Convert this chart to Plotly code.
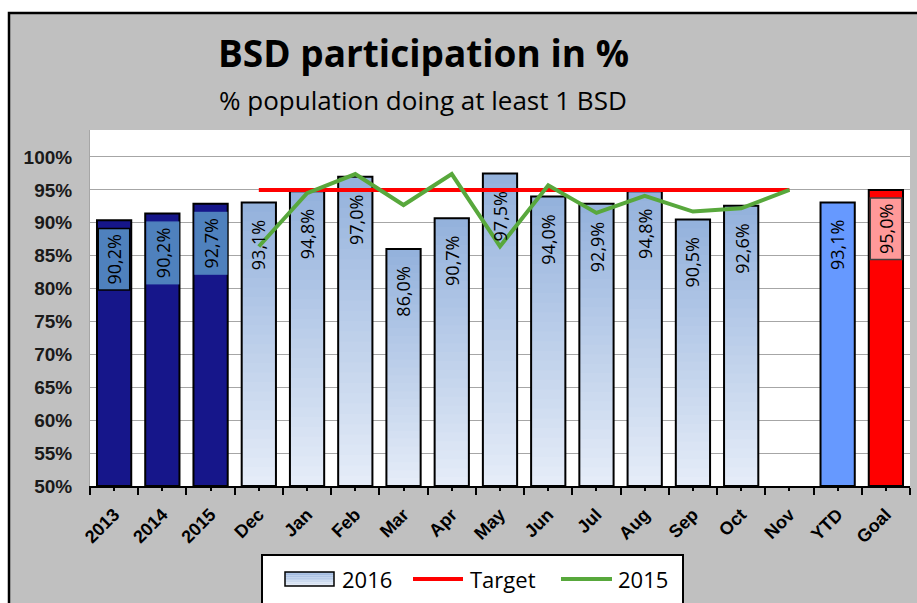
import plotly.graph_objects as go

# ---------------- data ----------------
categories = ["2013", "2014", "2015", "Dec", "Jan", "Feb", "Mar", "Apr", "May",
              "Jun", "Jul", "Aug", "Sep", "Oct", "Nov", "YTD", "Goal"]

years = ["2013", "2014", "2015"]
year_values = [90.4, 91.4, 92.9]
year_labels = ["90,2%", "90,2%", "92,7%"]

months = ["Dec", "Jan", "Feb", "Mar", "Apr", "May", "Jun", "Jul", "Aug", "Sep", "Oct", "Nov"]
values_2016 = [93.1, 94.8, 97.0, 86.0, 90.7, 97.5, 94.0, 92.9, 94.8, 90.5, 92.6, None]
target = [95, 95, 95, 95, 95, 95, 95, 95, 95, 95, 95, 95]
values_2015 = [86.4, 94.5, 97.4, 92.7, 97.4, 86.4, 95.7, 91.5, 94.1, 91.7, 92.2, 95.0]

ytd_cat = ["YTD"]
ytd_value = [93.1]
goal_cat = ["Goal"]
goal_value = [95.0]
goal_labels = ["95,0%"]

y_ticks = [50, 55, 60, 65, 70, 75, 80, 85, 90, 95, 100]
y_tick_labels = ["50%", "55%", "60%", "65%", "70%", "75%", "80%", "85%", "90%", "95%", "100%"]

# ---------------- geometry helpers (pixel -> paper) ----------------
W, H = 917, 603
L, R, T, B = 90, 7, 130, 117
PW, PH = W - L - R, H - T - B


def px(x):
    return (x - L) / PW


def py(y):
    return (H - B - y) / PH


BASE = 50
YMAX = 104.1
BAR_W = 0.71
TOP_C = (0x93, 0xB1, 0xDC)
BOT_C = (0xE6, 0xED, 0xF8)
N_LEVELS = 30


def mix(t):
    c = [round(BOT_C[i] + (TOP_C[i] - BOT_C[i]) * t) for i in range(3)]
    return "rgb(%d,%d,%d)" % tuple(c)


def fmt(v):
    return ("%.1f%%" % v).replace(".", ",")


def idx(c):
    return categories.index(c)


fig = go.Figure()

# dark year bars
fig.add_trace(go.Bar(
    x=years, y=[v - BASE for v in year_values], base=BASE, width=BAR_W,
    marker=dict(color="#16168A", line=dict(color="black", width=2)),
    showlegend=False, hoverinfo="skip"))

# 2016 month bars with vertical gradient (nested overlays)
month_x = [m for m, v in zip(months, values_2016) if v is not None]
month_v = [v for v in values_2016 if v is not None]
for k in range(N_LEVELS, 0, -1):
    frac = k / N_LEVELS
    fig.add_trace(go.Bar(
        x=month_x, y=[(v - BASE) * frac for v in month_v], base=BASE, width=BAR_W,
        marker=dict(color=mix((k - 0.5) / N_LEVELS), line=dict(width=0)),
        showlegend=False, hoverinfo="skip"))
fig.add_trace(go.Bar(
    x=month_x, y=[v - BASE for v in month_v], base=BASE, width=BAR_W,
    marker=dict(color="rgba(0,0,0,0)", line=dict(color="black", width=2)),
    name="2016", showlegend=False, hoverinfo="skip"))

# YTD and Goal
fig.add_trace(go.Bar(
    x=ytd_cat, y=[v - BASE for v in ytd_value], base=BASE, width=BAR_W,
    marker=dict(color="#6699FF", line=dict(color="black", width=2)),
    showlegend=False, hoverinfo="skip"))
fig.add_trace(go.Bar(
    x=goal_cat, y=[v - BASE for v in goal_value], base=BASE, width=BAR_W,
    marker=dict(color="#FF0000", line=dict(color="black", width=2)),
    showlegend=False, hoverinfo="skip"))

# lines
fig.add_trace(go.Scatter(
    x=months, y=target, mode="lines", line=dict(color="#FF0000", width=4),
    name="Target", showlegend=False, hoverinfo="skip"))
fig.add_trace(go.Scatter(
    x=months, y=values_2015, mode="lines", line=dict(color="#58A83C", width=4),
    name="2015", showlegend=False, hoverinfo="skip"))

# dummy trace for the minor tick axis
fig.add_trace(go.Scatter(x=[0], y=[None], xaxis="x2", yaxis="y",
                         showlegend=False, hoverinfo="skip"))

annotations = []
LABEL_FONT = dict(family="Open Sans, sans-serif", size=18, color="black")

# boxed labels for year bars
for i, (c, v, lab) in enumerate(zip(years, year_values, year_labels)):
    annotations.append(dict(
        x=idx(c), y=v, xref="x", yref="y", text=lab, showarrow=False, textangle=-90,
        yanchor="top", xanchor="center", yshift=-8, font=LABEL_FONT,
        bgcolor="#4F81BD", bordercolor="black" if i == 0 else "#4F81BD",
        borderwidth=1.5, borderpad=0, width=60, height=30))

# month labels
for c, v in zip(month_x, month_v):
    annotations.append(dict(
        x=idx(c), y=v, xref="x", yref="y", text=fmt(v), showarrow=False, textangle=-90,
        yanchor="top", xanchor="center", yshift=-16, font=LABEL_FONT))
for c, v in zip(ytd_cat, ytd_value):
    annotations.append(dict(
        x=idx(c), y=v, xref="x", yref="y", text=fmt(v), showarrow=False, textangle=-90,
        yanchor="top", xanchor="center", yshift=-16, font=LABEL_FONT))
for c, v, lab in zip(goal_cat, goal_value, goal_labels):
    annotations.append(dict(
        x=idx(c), y=v, xref="x", yref="y", text=lab, showarrow=False, textangle=-90,
        yanchor="top", xanchor="center", yshift=-7, font=LABEL_FONT,
        bgcolor="#FF9999", bordercolor="#404040", borderwidth=1.5, borderpad=0,
        width=60, height=30))

# titles
annotations.append(dict(
    x=px(423), y=py(52), xref="paper", yref="paper", text="<b>BSD participation in %</b>",
    showarrow=False, xanchor="center", yanchor="middle",
    font=dict(family="Open Sans, sans-serif", size=37, color="black")))
annotations.append(dict(
    x=px(423), y=py(100), xref="paper", yref="paper", text="% population doing at least 1 BSD",
    showarrow=False, xanchor="center", yanchor="middle",
    font=dict(family="Open Sans, sans-serif", size=26, color="black")))

# legend texts
LEG_FONT = dict(family="Open Sans, sans-serif", size=22, color="black")
for txt, x0 in [("2016", 340), ("Target", 468), ("2015", 616)]:
    annotations.append(dict(
        x=px(x0), y=py(579), xref="paper", yref="paper", text=txt, showarrow=False,
        xanchor="left", yanchor="middle", font=LEG_FONT))

shapes = []
# white strips outside the outer frame
shapes.append(dict(type="rect", xref="paper", yref="paper",
                   x0=px(-20), x1=px(W + 20), y0=py(12), y1=py(-20),
                   fillcolor="white", line=dict(width=0), layer="below"))
shapes.append(dict(type="rect", xref="paper", yref="paper",
                   x0=px(-20), x1=px(8), y0=py(H + 20), y1=py(-20),
                   fillcolor="white", line=dict(width=0), layer="below"))
# outer frame
shapes.append(dict(type="rect", xref="paper", yref="paper",
                   x0=px(9), x1=px(W + 20), y0=py(H + 20), y1=py(13),
                   fillcolor="rgba(0,0,0,0)", line=dict(color="black", width=2.5)))
# legend box
shapes.append(dict(type="rect", xref="paper", yref="paper",
                   x0=px(262), x1=px(683), y0=py(H + 20), y1=py(555),
                   fillcolor="white", line=dict(color="black", width=2)))
# legend swatch gradient
n_sw = 8
sy0, sy1 = 572, 586
for i in range(n_sw):
    ya = sy0 + (sy1 - sy0) * i / n_sw
    yb = sy0 + (sy1 - sy0) * (i + 1) / n_sw
    shapes.append(dict(type="rect", xref="paper", yref="paper",
                       x0=px(285), x1=px(334), y0=py(yb), y1=py(ya),
                       fillcolor=mix(1 - (i + 0.5) / n_sw), line=dict(width=0)))
shapes.append(dict(type="rect", xref="paper", yref="paper",
                   x0=px(285), x1=px(334), y0=py(sy1), y1=py(sy0),
                   fillcolor="rgba(0,0,0,0)", line=dict(color="black", width=1.5)))
shapes.append(dict(type="line", xref="paper", yref="paper",
                   x0=px(413), x1=px(463), y0=py(579), y1=py(579),
                   line=dict(color="#FF0000", width=4)))
shapes.append(dict(type="line", xref="paper", yref="paper",
                   x0=px(561), x1=px(612), y0=py(579), y1=py(579),
                   line=dict(color="#58A83C", width=4)))

fig.update_layout(
    width=W, height=H,
    margin=dict(l=L, r=R, t=T, b=B, pad=0, autoexpand=False),
    paper_bgcolor="#C0C0C0",
    plot_bgcolor="white",
    barmode="overlay",
    showlegend=False,
    annotations=annotations,
    shapes=shapes,
    xaxis=dict(
        type="category", categoryorder="array", categoryarray=categories,
        range=[-0.5, len(categories) - 0.5],
        showline=True, linecolor="black", linewidth=2,
        ticks="outside", tickson="boundaries", ticklen=7, tickwidth=2, tickcolor="black",
        tickangle=-45, showgrid=False, automargin=False, ticklabelstandoff=9,
        tickfont=dict(family="Liberation Sans, Arial, sans-serif", size=18,
                      color="black", weight="bold"),
    ),
    xaxis2=dict(
        overlaying="x", anchor="y", range=[-0.5, len(categories) - 0.5],
        tickvals=list(range(len(categories))), ticks="outside", ticklen=4, tickwidth=2,
        tickcolor="black", showticklabels=False, showgrid=False, showline=False,
        zeroline=False, side="bottom",
    ),
    yaxis=dict(
        range=[BASE, YMAX], tickmode="array", tickvals=y_ticks, ticktext=y_tick_labels,
        showgrid=True, gridcolor="#A6A6A6", gridwidth=1,
        showline=True, linecolor="#A6A6A6", linewidth=1, automargin=False,
        ticks="outside", ticklen=13, tickcolor="rgba(0,0,0,0)", zeroline=False,
        tickfont=dict(family="Liberation Sans, Arial, sans-serif", size=19,
                      color="#1a1a1a", weight="bold"),
    ),
)

fig.write_html(
    "out.html",
    config={"displayModeBar": False},
    post_script="document.body.style.margin='0';document.body.style.overflow='hidden';",
)
